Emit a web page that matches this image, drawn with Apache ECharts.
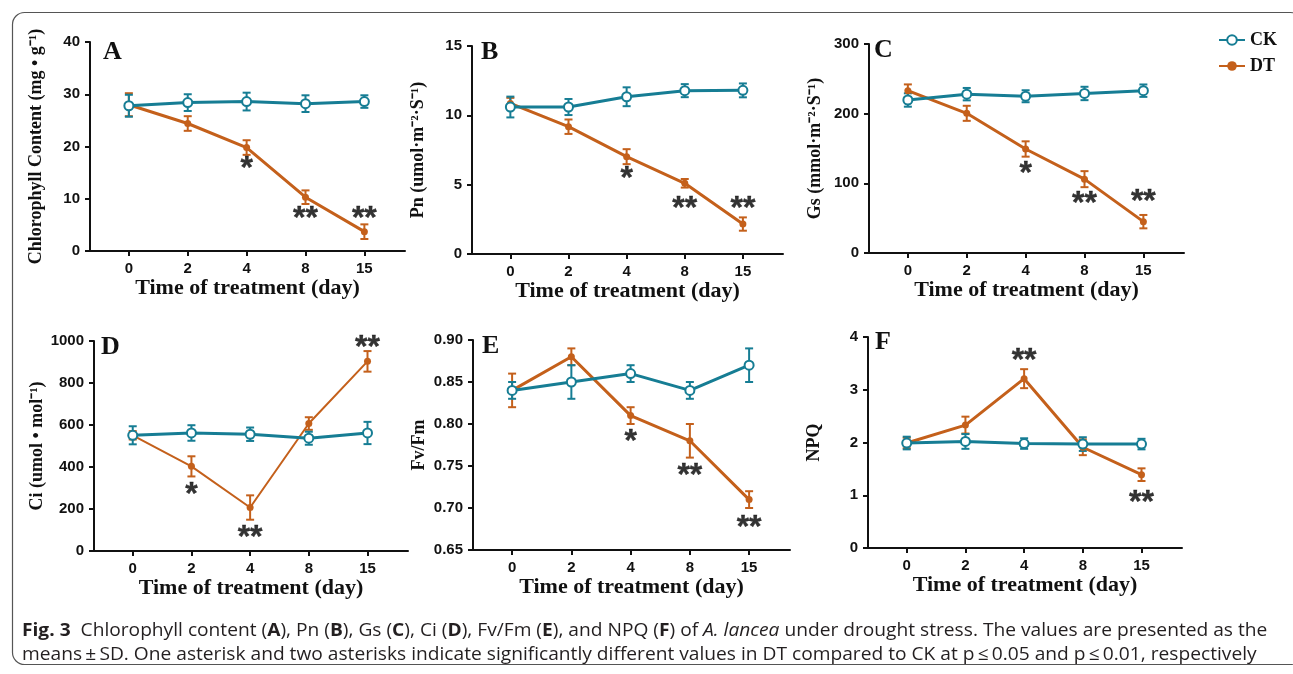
<!DOCTYPE html>
<html>
<head>
<meta charset="utf-8">
<script src="https://cdn.jsdelivr.net/npm/echarts@6/dist/echarts.min.js"></script>
<style>
  html, body { margin: 0; padding: 0; background: #fff; }
  #main { width: 1293px; height: 674px; }
</style>
</head>
<body>
<div id="main"></div>
<script>
// days on the x axis
const days = ['0', '2', '4', '8', '15']

// A chlorophyll
const ckA = [27.8, 28.4, 28.6, 28.2, 28.6]
const ckAErr = [2.1, 1.6, 1.7, 1.6, 1.2]
const dtA = [28.0, 24.4, 19.8, 10.3, 3.7]
const dtAErr = [2.2, 1.4, 1.4, 1.3, 1.4]
const starA = ['', '', '*', '**', '**']
const starAY = [null, null, 16.8, 7.3, 7.3]

// B Pn
const ckB = [10.6, 10.6, 11.34, 11.78, 11.8]
const ckBErr = [0.75, 0.58, 0.68, 0.47, 0.5]
const dtB = [10.86, 9.18, 7.02, 5.1, 2.16]
const dtBErr = [0.4, 0.52, 0.54, 0.31, 0.48]
const starB = ['', '', '*', '**', '**']
const starBY = [null, null, 5.84, 3.68, 3.68]

// C Gs
const ckC = [219.6, 228, 225, 229, 233]
const ckCErr = [9.6, 8.9, 8.6, 9.6, 8.9]
const dtC = [233, 200.5, 149.3, 106, 45]
const dtCErr = [9, 10.8, 11, 11.5, 9.6]
const starC = ['', '', '*', '**', '**']
const starCY = [null, null, 122, 79, 82]

// D Ci
const ckD = [551, 562, 556, 537, 562]
const ckDErr = [43, 37, 32, 31, 53]
const dtD = [551, 403, 207, 607, 903]
const dtDErr = [20, 48, 58, 30, 49]
const starD = ['', '*', '**', '', '**']
const starDY = [null, 294, 89, null, 994]

// E Fv/Fm
const ckE = [0.84, 0.85, 0.86, 0.84, 0.87]
const ckEErr = [0.01, 0.02, 0.01, 0.01, 0.02]
const dtE = [0.84, 0.88, 0.81, 0.78, 0.71]
const dtEErr = [0.02, 0.01, 0.01, 0.02, 0.01]
const starE = ['', '', '*', '**', '**']
const starEY = [null, null, 0.786, 0.745, 0.683]

// F NPQ
const ckF = [1.99, 2.02, 1.98, 1.97, 1.97]
const ckFErr = [0.12, 0.14, 0.1, 0.13, 0.1]
const dtF = [1.99, 2.33, 3.21, 1.91, 1.39]
const dtFErr = [0.1, 0.16, 0.18, 0.15, 0.12]
const starF = ['', '', '**', '', '**']
const starFY = [null, null, 3.65, null, 0.96]

const CK_COLOR = '#167d94'
const DT_COLOR = '#c4601b'

const panels = [
  { letter: 'A', name: 'Chlorophyll Content (mg • g⁻¹)', min: 0, max: 40, interval: 10, dec: 0,
    ck: ckA, ckErr: ckAErr, dt: dtA, dtErr: dtAErr, star: starA, starY: starAY,
    grid: { left: 90, top: 42, width: 315, height: 209 } },
  { letter: 'B', name: 'Pn (umol·m⁻²·S⁻¹)', min: 0, max: 15, interval: 5, dec: 0,
    ck: ckB, ckErr: ckBErr, dt: dtB, dtErr: dtBErr, star: starB, starY: starBY,
    grid: { left: 472, top: 46, width: 311, height: 208 } },
  { letter: 'C', name: 'Gs (mmol·m⁻²·S⁻¹)', min: 0, max: 300, interval: 100, dec: 0,
    ck: ckC, ckErr: ckCErr, dt: dtC, dtErr: dtCErr, star: starC, starY: starCY,
    grid: { left: 869, top: 44, width: 315, height: 209 } },
  { letter: 'D', name: 'Ci (umol • mol⁻¹)', min: 0, max: 1000, interval: 200, dec: 0, dtWidth: 2,
    ck: ckD, ckErr: ckDErr, dt: dtD, dtErr: dtDErr, star: starD, starY: starDY,
    grid: { left: 94, top: 341, width: 314, height: 210 } },
  { letter: 'E', name: 'Fv/Fm', min: 0.65, max: 0.90, interval: 0.05, dec: 2,
    ck: ckE, ckErr: ckEErr, dt: dtE, dtErr: dtEErr, star: starE, starY: starEY,
    grid: { left: 473, top: 340, width: 317, height: 210 } },
  { letter: 'F', name: 'NPQ', min: 0, max: 4, interval: 1, dec: 0,
    ck: ckF, ckErr: ckFErr, dt: dtF, dtErr: dtFErr, star: starF, starY: starFY,
    grid: { left: 868, top: 337, width: 314, height: 211 } },
]

const chart = echarts.init(document.getElementById('main'))

const grids = []
const xAxes = []
const yAxes = []
const series = []
const graphics = []

function errBars(vals, errs) {
  return vals.map((v, i) => [i, v, v - errs[i], v + errs[i]])
}

function errRender(color) {
  return function (params, api) {
    const lo = api.coord([api.value(0), api.value(2)])
    const hi = api.coord([api.value(0), api.value(3)])
    const cap = 4
    const st = { stroke: color, lineWidth: 2 }
    return {
      type: 'group',
      children: [
        { type: 'line', shape: { x1: lo[0], y1: lo[1], x2: hi[0], y2: hi[1] }, style: st },
        { type: 'line', shape: { x1: lo[0] - cap, y1: lo[1], x2: lo[0] + cap, y2: lo[1] }, style: st },
        { type: 'line', shape: { x1: hi[0] - cap, y1: hi[1], x2: hi[0] + cap, y2: hi[1] }, style: st },
      ]
    }
  }
}

panels.forEach((p, k) => {
  grids.push(p.grid)
  xAxes.push({
    type: 'value', gridIndex: k, min: -0.66, max: 4.69,
    name: 'Time of treatment (day)', nameLocation: 'middle', nameGap: 22,
    nameTextStyle: { fontFamily: 'Liberation Serif', fontWeight: 'bold', fontSize: 22, color: '#111', verticalAlign: 'top' },
    axisLine: { onZero: false, lineStyle: { color: '#111', width: 2 } },
    axisTick: { customValues: [0, 1, 2, 3, 4], length: 5, lineStyle: { width: 2, color: '#111' } },
    axisLabel: { customValues: [0, 1, 2, 3, 4], formatter: v => days[v], margin: 10,
      fontFamily: 'Liberation Sans', fontWeight: 'bold', fontSize: 15, color: '#111' },
    splitLine: { show: false }
  })
  yAxes.push({
    type: 'value', gridIndex: k, min: p.min, max: p.max, interval: p.interval,
    name: p.name, nameLocation: 'middle', nameGap: 45,
    nameTextStyle: { fontFamily: 'Liberation Serif', fontWeight: 'bold', fontSize: 18, color: '#111' },
    axisLine: { show: true, onZero: false, lineStyle: { color: '#111', width: 2 } },
    axisTick: { show: true, length: 5, lineStyle: { width: 2, color: '#111' } },
    axisLabel: { formatter: v => v.toFixed(p.dec), margin: 10,
      fontFamily: 'Liberation Sans', fontWeight: 'bold', fontSize: 15, color: '#111' },
    splitLine: { show: false }
  })

  series.push({
    type: 'custom', xAxisIndex: k, yAxisIndex: k, silent: true, z: 2,
    renderItem: errRender(DT_COLOR), data: errBars(p.dt, p.dtErr)
  })
  series.push({
    type: 'custom', xAxisIndex: k, yAxisIndex: k, silent: true, z: 3,
    renderItem: errRender(CK_COLOR), data: errBars(p.ck, p.ckErr)
  })
  series.push({
    name: 'DT', type: 'line', xAxisIndex: k, yAxisIndex: k, z: 4,
    data: p.dt.map((v, i) => [i, v]),
    color: DT_COLOR,
    lineStyle: { width: p.dtWidth || 3, color: DT_COLOR },
    symbol: 'circle', symbolSize: 7,
    itemStyle: { color: DT_COLOR },
    animation: false
  })
  series.push({
    name: 'CK', type: 'line', xAxisIndex: k, yAxisIndex: k, z: 5,
    data: p.ck.map((v, i) => [i, v]),
    color: CK_COLOR,
    lineStyle: { width: 3, color: CK_COLOR },
    symbol: 'circle', symbolSize: 9,
    itemStyle: { color: '#fff', borderColor: CK_COLOR, borderWidth: 2 },
    animation: false
  })
  // significance asterisks
  series.push({
    type: 'scatter', xAxisIndex: k, yAxisIndex: k, silent: true, z: 6,
    symbolSize: 0,
    data: p.star.map((s, i) => [i, p.starY[i], s]).filter(d => d[2] !== ''),
    label: {
      show: true, position: 'inside', offset: [0, 6],
      formatter: d => d.value[2],
      fontFamily: 'Liberation Sans', fontWeight: 'bold', fontSize: 32, color: '#000',
      textBorderColor: '#000', textBorderWidth: 0.4
    }
  })
})

// panel letters
const letterPos = [[103, 53], [481, 53], [874, 51], [101, 348], [482, 347], [875, 343]]
panels.forEach((p, k) => {
  graphics.push({
    type: 'text', left: letterPos[k][0], top: letterPos[k][1] - 14,
    style: { text: p.letter, font: 'bold 26px "Liberation Serif"', fill: '#111' }
  })
})

// outer rounded frame
graphics.push({
  type: 'rect', left: 10, top: 10, silent: true, z: -1,
  shape: { width: 1290, height: 652, r: 12 },
  style: { fill: 'none', stroke: '#555', lineWidth: 1.2 }
})

// caption
graphics.push({
  type: 'text', x: 22, y: 631, scaleX: 1.065,
  style: {
    text: '{b|Fig. 3}  Chlorophyll content ({b|A}), Pn ({b|B}), Gs ({b|C}), Ci ({b|D}), Fv/Fm ({b|E}), and NPQ ({b|F}) of {i|A. lancea} under drought stress. The values are presented as the',
    font: '18px "Open Sans"', fill: '#231f20', verticalAlign: 'middle',
    rich: {
      b: { font: 'bold 18px "Open Sans"', fill: '#231f20' },
      i: { font: 'italic 18px "Open Sans"', fill: '#231f20' }
    }
  }
})
graphics.push({
  type: 'text', x: 22, y: 655, scaleX: 1.065,
  style: {
    text: 'means\u2009±\u2009SD. One asterisk and two asterisks indicate significantly different values in DT compared to CK at p\u2009≤\u20090.05 and p\u2009≤\u20090.01, respectively',
    font: '18px "Open Sans"', fill: '#231f20', verticalAlign: 'middle'
  }
})

chart.setOption({
  animation: false,
  backgroundColor: '#fff',
  grid: grids,
  xAxis: xAxes,
  yAxis: yAxes,
  legend: {
    data: ['CK', 'DT'], orient: 'vertical', left: 1213, top: 26,
    itemWidth: 26, itemHeight: 12, itemGap: 8,
    textStyle: { fontFamily: 'Liberation Serif', fontWeight: 'bold', fontSize: 18, color: '#111' }
  },
  series: series,
  graphic: graphics
})
</script>
</body>
</html>
